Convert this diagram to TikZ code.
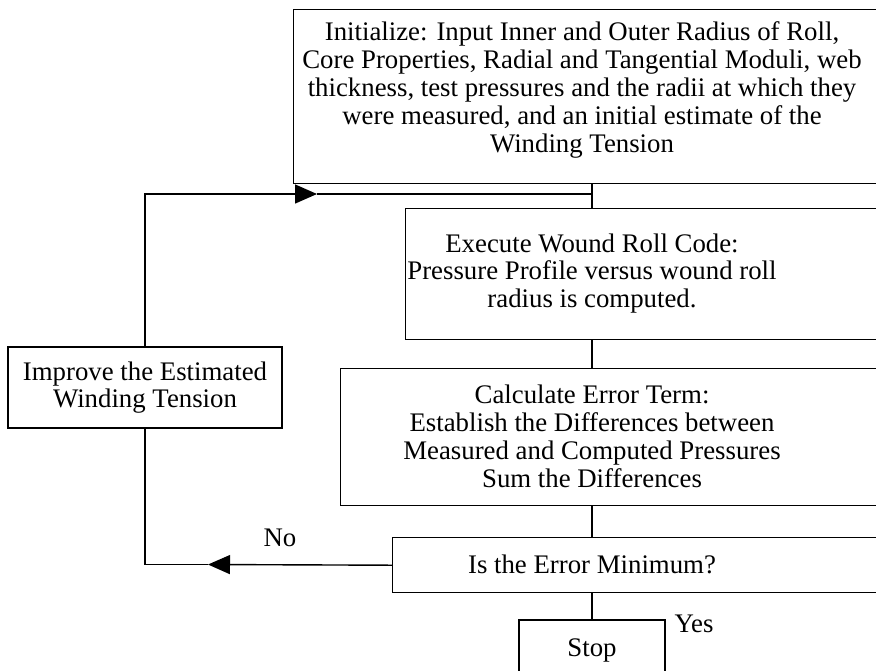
\documentclass[tikz,border=0pt]{standalone}
\usepackage{fontspec}
\setmainfont{Liberation Serif}
\usetikzlibrary{arrows.meta}

\begin{document}
\begin{tikzpicture}[
    x=0.5pt, y=-0.5pt,
    font=\fontsize{13.4}{13.9}\selectfont,
    frame/.style={rectangle, draw, line width=0.7pt, anchor=north west, inner sep=0pt},
    txt/.style={align=center, inner sep=0pt},
    box/.style={rectangle, draw, line width=0.7pt, align=center, inner sep=0pt},
    line/.style={line width=0.7pt},
    arrow/.style={line width=0.7pt, -{Triangle[length=11pt, width=9.5pt]}}
]
    \useasboundingbox (0,0) rectangle (876,670);
    \clip (0,0) rectangle (876,670);

    % Main column (frames run past the right edge)
    \node[frame, minimum width=313.5pt, minimum height=87pt] (init) at (293,9) {};
    \node[txt] (inittext) at (582,90)
        {Initialize: Input Inner and Outer Radius of Roll,\\
         Core Properties, Radial and Tangential Moduli, web\\
         thickness, test pressures and the radii at which they\\
         were measured, and an initial estimate of the\\
         Winding Tension};
    \node[frame, minimum width=257.5pt, minimum height=65.5pt] (exec) at (405,208) {};
    \node[txt] (exectext) at (592,273.5)
        {Execute Wound Roll Code:\\
         Pressure Profile versus wound roll\\
         radius is computed.};
    \node[frame, minimum width=290pt, minimum height=68.5pt] (calc) at (340,368) {};
    \node[txt] (calctext) at (592,436.5)
        {Calculate Error Term:\\
         Establish the Differences between\\
         Measured and Computed Pressures\\
         Sum the Differences};
    \node[frame, minimum width=264pt, minimum height=27.5pt] (check) at (392,537) {};
    \node[txt] (checktext) at (592,564.5) {Is the Error Minimum?};
    \node[box, minimum width=73pt, minimum height=30pt] (stop) at (592,650) {Stop};

    % Side box
    \node[box, minimum width=137pt, minimum height=40.5pt] (improve) at (145,387.5)
        {Improve the Estimated\\
         Winding Tension};

    % Labels
    \node (no) at (280,538) {No};
    \node (yes) at (694,624) {Yes};

    % Connections
    \draw[line] (init.south -| exectext) -- (exec.north -| exectext);
    \draw[line] (exec.south -| exectext) -- (calc.north -| calctext);
    \draw[line] (calc.south -| calctext) -- (check.north -| checktext);
    \draw[line] (check.south -| stop) -- (stop);

    % Loop back
    \coordinate (fbtip) at (317,194);
    \coordinate (fbjoin) at (592,194);
    \coordinate (notip) at (208,564.5);
    \draw[arrow] (check.west) -- (notip);
    \draw[line] (notip) -| (improve.south);
    \draw[arrow] (improve.north) |- (fbtip);
    \draw[line] (fbtip) -- (fbjoin);
\end{tikzpicture}
\end{document}
